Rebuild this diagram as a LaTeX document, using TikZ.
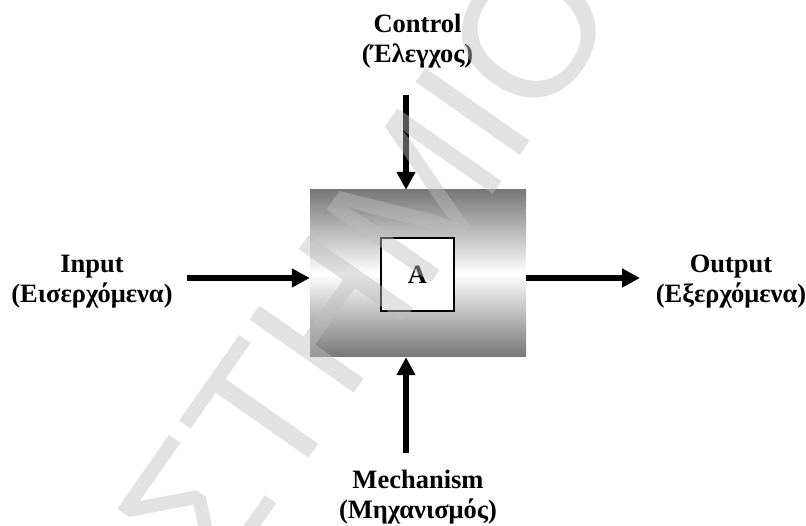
\documentclass[tikz,border=0pt]{standalone}
\usepackage{fontspec}
\setmainfont{Liberation Serif}
\newfontfamily\markfont{Liberation Sans}
\usetikzlibrary{arrows.meta}
\definecolor{boxgray}{HTML}{777777}
\begin{document}
\begin{tikzpicture}[x=1pt,y=-1pt,
  lbl/.style={font=\fontsize{26.5}{30}\selectfont\bfseries, align=center, inner sep=0pt, anchor=base},
  flow/.style={line width=5.5pt, -{Triangle[length=18pt,width=18pt]}},
  funcbox/.style={minimum width=216pt, minimum height=167pt, inner sep=0pt,
    top color=boxgray, bottom color=boxgray, middle color=white},
  actbox/.style={draw, line width=1.4pt, fill=white, minimum size=73pt, inner sep=0pt,
    font=\fontsize{26.5}{30}\selectfont\bfseries},
  stamp/.style={font=\markfont\fontsize{185}{185}\selectfont,
    text=black!25, opacity=0.45, rotate=55, inner sep=0pt}
]
\useasboundingbox (0,0) rectangle (806,526);

% function block with its activity square
\node[funcbox] (box) at (418,273.5) {};
\node[actbox] (act) at (417.5,274.5) {A};

% labels of the four sides (anchored on the baseline of the second line)
\node[lbl] (ctl)  at (417.5,63) {Control\\(Έλεγχος)};
\node[lbl] (inp)  at (92,303)   {Input\\(Εισερχόμενα)};
\node[lbl] (outp) at (731,303)  {Output\\(Εξερχόμενα)};
\node[lbl] (mech) at (418,518)  {Mechanism\\(Μηχανισμός)};

% free ends of the arrows
\coordinate (cin)   at (187,278);
\coordinate (cout)  at (640,278);
\coordinate (cctl)  at (406,95);
\coordinate (cmech) at (406,453);

\draw[flow] (cin) -- (cin -| box.west);
\draw[flow] (cout -| box.east) -- (cout);
\draw[flow] (cctl) -- (cctl |- box.north);
\draw[flow] (cmech) -- (cmech |- box.south);

% faint stamp across the figure
\node[stamp] (wm) at (367,264) {ΣΤΗΜΙΟ};
\end{tikzpicture}
\end{document}
